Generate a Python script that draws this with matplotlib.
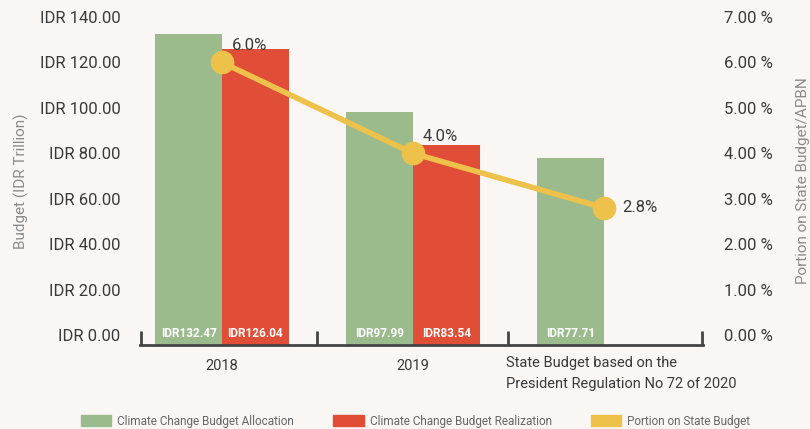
import numpy as np
import matplotlib
matplotlib.use("Agg")
import matplotlib.pyplot as plt
from matplotlib.patches import Patch
from matplotlib.transforms import blended_transform_factory

plt.rcParams['font.family'] = ['Roboto', 'DejaVu Sans']

# budget data (IDR trillion) and share of state budget (%)
categories = ["2018", "2019", "State Budget based on the\nPresident Regulation No 72 of 2020"]
allocation = [132.47, 97.99, 77.71]
realization = [126.04, 83.54, np.nan]
portion = [6.0, 4.0, 2.8]

left_ticks = [0, 20, 40, 60, 80, 100, 120, 140]
right_ticks = [0, 1, 2, 3, 4, 5, 6, 7]

GREEN = "#9bbb8d"
RED = "#e04e37"
YELLOW = "#eec14a"
BG = "#faf6f3"
TEXT = "#3a3a3a"
LABEL = "#8a8a8a"

fig = plt.figure(figsize=(8.1, 4.29), dpi=100, facecolor=BG)
ax = fig.add_axes([0.1728, 0.1958, 0.6951, 0.7646])
ax.set_facecolor(BG)

x = np.arange(len(categories))
w = 0.35
base = -4.4  # bars run down to the axis line

ax.bar(x - w / 2, np.array(allocation) - base, w, bottom=base, color=GREEN, zorder=2)
ax.bar(x + w / 2, np.array(realization) - base, w, bottom=base, color=RED, zorder=2)

for i, v in enumerate(allocation):
    ax.text(x[i] - w / 2, 0.5, f"IDR{v:.2f}", ha='center', va='center',
            color='white', fontsize=8.5, fontweight='bold', zorder=3)
for i, v in enumerate(realization):
    if not np.isnan(v):
        ax.text(x[i] + w / 2, 0.5, f"IDR{v:.2f}", ha='center', va='center',
                color='white', fontsize=8.5, fontweight='bold', zorder=3)

ax.set_xlim(-0.43, 2.52)
ax.set_ylim(base, 140)
ax.set_yticks(left_ticks)
ax.set_yticklabels([f"IDR {v:.2f}" for v in left_ticks], fontsize=12, color=TEXT)
ax.tick_params(axis='y', length=0, pad=14)
ax.set_ylabel("Budget (IDR Trillion)", fontsize=11, color=LABEL, labelpad=8)

ax.set_xticks([0, 1])
ax.set_xticklabels(categories[:2], fontsize=10.5, color=TEXT)
ax.tick_params(axis='x', which='major', length=0, pad=10)
ax.set_xticks([-0.425, 0.5, 1.5, 2.515], minor=True)
ax.tick_params(axis='x', which='minor', direction='in', length=10, width=2, color="#444444")
trans = blended_transform_factory(ax.transData, ax.transAxes)
ax.text(1.49, -0.035, categories[2], transform=trans, ha='left', va='top',
        fontsize=10.5, color=TEXT, linespacing=1.55)

for s in ['top', 'left', 'right']:
    ax.spines[s].set_visible(False)
ax.spines['bottom'].set_color("#444444")
ax.spines['bottom'].set_linewidth(2)

# share of state budget on a secondary axis
ax2 = ax.twinx()
ax2.set_ylim(base / 20, 7)
ax2.plot(x, portion, color=YELLOW, lw=4, marker='o', markersize=16, zorder=4)
offsets = [(10, 17), (10, 17), (18, 0)]
for i, v in enumerate(portion):
    ax2.annotate(f"{v:.1f}%", (x[i], v), xytext=offsets[i], textcoords='offset pixels',
                 ha='left', va='center', fontsize=12, color=TEXT)
ax2.set_yticks(right_ticks)
ax2.set_yticklabels([f"{v:.2f} %" for v in right_ticks], fontsize=12, color=TEXT)
ax2.tick_params(axis='y', length=0, pad=15)
ax2.set_ylabel("Portion on State Budget/APBN", fontsize=11, color=LABEL, labelpad=17)
for s in ['top', 'left', 'right', 'bottom']:
    ax2.spines[s].set_visible(False)

handles = [Patch(color=GREEN), Patch(color=RED), Patch(color=YELLOW)]
labels = ["Climate Change Budget Allocation", "Climate Change Budget Realization",
          "Portion on State Budget"]
fig.legend(handles, labels, loc='center', bbox_to_anchor=(0.513, 1 - 421 / 429), ncol=3,
           frameon=False, fontsize=8.5, labelcolor="#666666", handlelength=2.6,
           handleheight=1.0, columnspacing=3.3, handletextpad=0.5,
           borderpad=0.2)

fig.savefig("out.png", dpi=100, facecolor=BG)
